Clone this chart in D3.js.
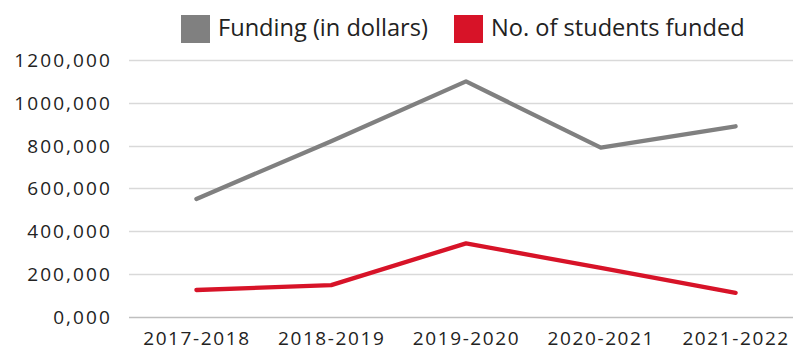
<!DOCTYPE html>
<html>
<head>
<meta charset="utf-8">
<script src="https://cdn.jsdelivr.net/npm/d3@7"></script>
<style>
  html, body { margin: 0; padding: 0; background: #fff; }
  svg { display: block; font-family: "Open Sans", "Lato", sans-serif; }
</style>
</head>
<body>
<div id="chart"></div>
<script>
// Academic years on the x axis
const years = ["2017-2018", "2018-2019", "2019-2020", "2020-2021", "2021-2022"];
// Funding (in dollars) per year
const funding = [550000, 820000, 1100000, 790000, 890000];
// Number of students funded per year (plotted on the same axis)
const studentsFunded = [124000, 147000, 342000, 227000, 111000];
// Y axis tick values and their printed labels
const yTicks = [0, 200000, 400000, 600000, 800000, 1000000, 1200000];
const yTickLabels = ["0,000", "200,000", "400,000", "600,000", "800,000", "1000,000", "1200,000"];
const seriesNames = ["Funding (in dollars)", "No. of students funded"];
const seriesColors = ["#808080", "#D71328"];

const W = 793, H = 351;
const margin = { top: 60, right: -10, bottom: 34.5, left: 129 };

const svg = d3.select("#chart").append("svg")
  .attr("width", W).attr("height", H);

const x = d3.scalePoint()
  .domain(years)
  .range([margin.left, W - margin.right])
  .padding(0.5);

const y = d3.scaleLinear()
  .domain([0, 1200000])
  .range([H - margin.bottom, margin.top]);

// Horizontal gridlines
const grid = svg.append("g");
grid.selectAll("line")
  .data(yTicks)
  .join("line")
  .attr("x1", margin.left)
  .attr("x2", W)
  .attr("y1", d => Math.round(y(d)) + 0.5)
  .attr("y2", d => Math.round(y(d)) + 0.5)
  .attr("stroke", d => d === 0 ? "#bfbfbf" : "#d9d9d9")
  .attr("stroke-width", 1.3);

// Y axis labels
const yAxis = d3.axisLeft(y)
  .tickValues(yTicks)
  .tickFormat((d, i) => yTickLabels[i])
  .tickSize(0)
  .tickPadding(0);

svg.append("g")
  .attr("transform", `translate(${margin.left - 17},0)`)
  .call(yAxis)
  .call(g => g.select(".domain").remove())
  .call(g => g.selectAll("text")
    .attr("font-family", "'Open Sans', sans-serif")
    .attr("font-size", 19)
    .attr("letter-spacing", 2.1)
    .attr("fill", "#222")
    .attr("dy", "0.35em"));

// X axis labels
const xAxis = d3.axisBottom(x).tickSize(0).tickPadding(0);
svg.append("g")
  .attr("transform", `translate(0,${H - margin.bottom + 15.5})`)
  .call(xAxis)
  .call(g => g.select(".domain").remove())
  .call(g => g.selectAll("text")
    .attr("font-family", "'Open Sans', sans-serif")
    .attr("font-size", 19)
    .attr("letter-spacing", 1.6)
    .attr("fill", "#222")
    .attr("dy", "0.7em"));

// Series lines
const line = d3.line()
  .x((d, i) => x(years[i]))
  .y(d => y(d));

[funding, studentsFunded].forEach((vals, k) => {
  svg.append("path")
    .datum(vals)
    .attr("d", line)
    .attr("fill", "none")
    .attr("stroke", seriesColors[k])
    .attr("stroke-width", 4.3)
    .attr("stroke-linejoin", "round")
    .attr("stroke-linecap", "round");
});

// Legend
const legendX = [181, 454];
const legend = svg.append("g");
seriesNames.forEach((name, k) => {
  const g = legend.append("g").attr("transform", `translate(${legendX[k]},15)`);
  g.append("rect")
    .attr("width", 29).attr("height", 28)
    .attr("fill", seriesColors[k]);
  g.append("text")
    .attr("x", 37)
    .attr("y", 21)
    .attr("font-family", "'Open Sans', sans-serif")
    .attr("font-size", 23.6)
    .attr("fill", "#222")
    .text(name);
});
</script>
</body>
</html>
